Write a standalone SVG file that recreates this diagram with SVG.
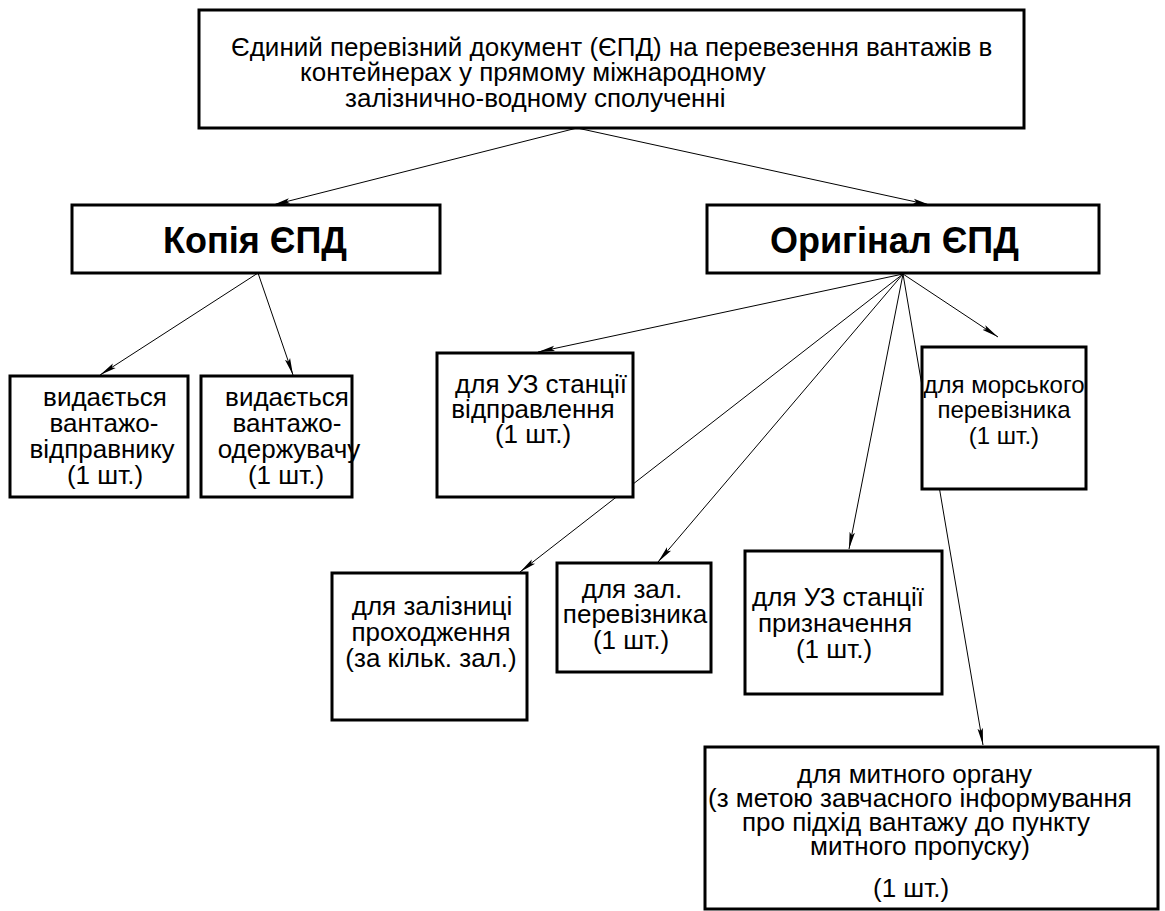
<svg xmlns="http://www.w3.org/2000/svg" width="1165" height="911" viewBox="0 0 1165 911">
<defs>
<marker id="ah" markerUnits="userSpaceOnUse" markerWidth="18" markerHeight="8" refX="17" refY="4" orient="auto">
<path d="M0,1.3 L17,4 L0,6.7 L3,4 z" fill="#000"/>
</marker>
<style>
.box{fill:#fff;stroke:#000;stroke-width:3}
.t{font-family:"Liberation Sans",Arial,sans-serif;font-size:26px;fill:#000}
.b{font-family:"Liberation Sans",Arial,sans-serif;font-size:36px;font-weight:bold;fill:#000}
.c{text-anchor:middle}
.e{fill:none;stroke:#000;stroke-width:1;marker-end:url(#ah)}
</style>
</defs>
<rect width="1165" height="911" fill="#fff"/>
<g id="connectors">
<line class="e" x1="577" y1="128" x2="273" y2="205"/>
<line class="e" x1="577" y1="128" x2="930" y2="205"/>
<line class="e" x1="258" y1="273" x2="100" y2="375"/>
<line class="e" x1="258" y1="273" x2="293" y2="375"/>
<line class="e" x1="903" y1="274" x2="538" y2="352"/>
<line class="e" x1="903" y1="274" x2="520" y2="572"/>
<line class="e" x1="903" y1="274" x2="658" y2="562"/>
<line class="e" x1="903" y1="274" x2="849" y2="549"/>
<line class="e" x1="903" y1="274" x2="983" y2="745"/>
<line class="e" x1="903" y1="274" x2="998" y2="337"/>
</g>
<g id="top">
<rect class="box" x="199" y="10" width="825" height="118"/>
<text class="t" x="231" y="56">Єдиний перевізний документ (ЄПД) на перевезення вантажів в</text>
<text class="t" x="300" y="81">контейнерах у прямому міжнародному</text>
<text class="t" x="345" y="107">залізнично-водному сполученні</text>
</g>
<g id="copy">
<rect class="box" x="72" y="205" width="368" height="68"/>
<text class="b c" x="255" y="253">Копія ЄПД</text>
</g>
<g id="original">
<rect class="box" x="707" y="205" width="392" height="68"/>
<text class="b" x="770" y="253">Оригінал ЄПД</text>
</g>
<g id="sender">
<rect class="box" x="10" y="376" width="178" height="121"/>
<text class="t c" x="105" y="406">видається</text>
<text class="t c" x="104" y="432">вантажо-</text>
<text class="t c" x="102" y="458">відправнику</text>
<text class="t c" x="105" y="484">(1 шт.)</text>
</g>
<g id="receiver">
<rect class="box" x="201" y="376" width="151" height="121"/>
<text class="t c" x="287" y="406">видається</text>
<text class="t c" x="287" y="432">вантажо-</text>
<text class="t c" x="289" y="458">одержувачу</text>
<text class="t c" x="286" y="484">(1 шт.)</text>
</g>
<g id="uz-departure">
<rect class="box" x="437" y="353" width="196" height="144"/>
<text class="t c" x="541" y="393">для УЗ станції</text>
<text class="t c" x="533" y="418">відправлення</text>
<text class="t c" x="533" y="443">(1 шт.)</text>
</g>
<g id="sea">
<rect class="box" x="922" y="347" width="164" height="142"/>
<text class="t c" x="1004" y="393" style="font-size:24px">для морського</text>
<text class="t c" x="1004" y="418" style="font-size:24px">перевізника</text>
<text class="t c" x="1004" y="444" style="font-size:24px">(1 шт.)</text>
</g>
<g id="transit">
<rect class="box" x="332" y="573" width="195" height="147"/>
<text class="t c" x="432" y="615">для залізниці</text>
<text class="t c" x="431" y="641">проходження</text>
<text class="t c" x="431" y="667">(за кільк. зал.)</text>
</g>
<g id="rail-carrier">
<rect class="box" x="557" y="563" width="154" height="109"/>
<text class="t c" x="632" y="598">для зал.</text>
<text class="t c" x="635" y="623">перевізника</text>
<text class="t c" x="631" y="649">(1 шт.)</text>
</g>
<g id="uz-destination">
<rect class="box" x="745" y="551" width="197" height="143"/>
<text class="t c" x="838" y="606">для УЗ станції</text>
<text class="t c" x="835" y="632">призначення</text>
<text class="t c" x="834" y="658">(1 шт.)</text>
</g>
<g id="customs">
<rect class="box" x="705" y="747" width="453" height="162"/>
<text class="t" x="797" y="783">для митного органу</text>
<text class="t" x="708" y="807">(з метою завчасного інформування</text>
<text class="t" x="742" y="831">про підхід вантажу до пункту</text>
<text class="t" x="810" y="855">митного пропуску)</text>
<text class="t" x="873" y="897">(1 шт.)</text>
</g>
</svg>
